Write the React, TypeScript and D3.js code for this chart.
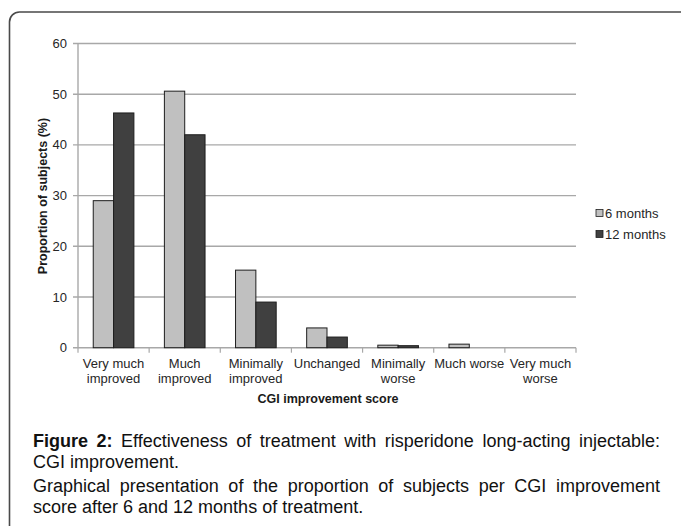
import React, { useLayoutEffect, useRef } from "react";
import * as d3 from "d3";

const categories: string[][] = [
  ["Very much", "improved"],
  ["Much", "improved"],
  ["Minimally", "improved"],
  ["Unchanged"],
  ["Minimally", "worse"],
  ["Much worse"],
  ["Very much", "worse"],
];
const seriesNames = ["6 months", "12 months"];
const sixMonths = [29.0, 50.6, 15.3, 3.9, 0.5, 0.7, 0];
const twelveMonths = [46.3, 42.0, 9.0, 2.1, 0.4, 0, 0];
const yTicks = [0, 10, 20, 30, 40, 50, 60];

const seriesValues = [sixMonths, twelveMonths];
const seriesFill = ["#c0c0c0", "#404040"];

function Justified(props: { x: number; y: number; width: number; children: React.ReactNode }) {
  const ref = useRef<SVGTextElement>(null);
  useLayoutEffect(() => {
    const el = ref.current;
    if (!el) return;
    el.setAttribute("word-spacing", "0");
    const natural = el.getComputedTextLength();
    const txt = el.textContent || "";
    const spaces = (txt.match(/ /g) || []).length;
    if (spaces > 0 && natural < props.width) {
      el.setAttribute("word-spacing", String((props.width - natural) / spaces));
    }
  }, [props.width]);
  return (
    <text ref={ref} x={props.x} y={props.y}>
      {props.children}
    </text>
  );
}

export default function App() {
  const W = 681;
  const H = 526;
  const left = 78;
  const right = 576;
  const top = 43.5;
  const bottom = 347.7;
  const catKeys = categories.map((c) => c.join(" "));
  const x = d3.scaleBand<string>().domain(catKeys).range([left, right]).padding(0);
  const xs = d3
    .scaleBand<string>()
    .domain(seriesNames)
    .range([0, x.bandwidth()])
    .paddingInner(0)
    .paddingOuter(0.75);
  const y = d3.scaleLinear().domain([0, 60]).range([bottom, top]);
  const font = "'Liberation Sans', Arial, sans-serif";
  const textColor = "#262626";
  const gridColor = "#a8a8a8";
  const boundaries = catKeys.map((k) => x(k) as number).concat([right]);

  return (
    <svg
      width={W}
      height={H}
      style={{ position: "absolute", left: 0, top: 0, background: "#fff" }}
      fontFamily={font}
    >
      <rect x={0} y={0} width={W} height={H} fill="#fff" />
      {/* frame */}
      <path
        d={`M9.5,${H + 2} L9.5,22 A10,10 0 0 1 19.5,12 L${W + 2},12`}
        fill="none"
        stroke="#4a4a4a"
        strokeWidth={1.6}
      />
      {/* gridlines + y ticks */}
      {yTicks.map((t) => (
        <g key={t}>
          <line x1={left - 5} x2={right} y1={y(t)} y2={y(t)} stroke={gridColor} strokeWidth={1.4} />
          <text x={67} y={y(t)} dy="0.35em" textAnchor="end" fontSize={13} fill={textColor}>
            {t}
          </text>
        </g>
      ))}
      {/* y axis line */}
      <line x1={left} x2={left} y1={top} y2={bottom} stroke={gridColor} strokeWidth={1.4} />
      {/* x ticks */}
      {boundaries.map((b, i) => (
        <line key={i} x1={b} x2={b} y1={bottom} y2={bottom + 5} stroke={gridColor} strokeWidth={1.2} />
      ))}
      {/* bars */}
      {catKeys.map((k, ci) => (
        <g key={k} transform={`translate(${x(k)},0)`}>
          {seriesNames.map((s, si) => {
            const v = seriesValues[si][ci];
            if (v <= 0) return null;
            return (
              <rect
                key={s}
                x={xs(s)}
                y={y(v)}
                width={xs.bandwidth()}
                height={bottom - y(v)}
                fill={seriesFill[si]}
                stroke="#1e1e1e"
                strokeWidth={1}
              />
            );
          })}
        </g>
      ))}
      {/* x tick labels */}
      {categories.map((lines, ci) => (
        <text
          key={ci}
          x={(x(catKeys[ci]) as number) + x.bandwidth() / 2}
          y={367.5}
          textAnchor="middle"
          fontSize={13}
          fill={textColor}
        >
          {lines.map((l, li) => (
            <tspan key={li} x={(x(catKeys[ci]) as number) + x.bandwidth() / 2} dy={li === 0 ? 0 : 15}>
              {l}
            </tspan>
          ))}
        </text>
      ))}
      {/* axis titles */}
      <text
        x={(left + right) / 2 + 1}
        y={403}
        textAnchor="middle"
        fontSize={12.5}
        fontWeight="bold"
        fill="#1a1a1a"
      >
        CGI improvement score
      </text>
      <text
        transform={`translate(47,196) rotate(-90)`}
        textAnchor="middle"
        fontSize={12.5}
        fontWeight="bold"
        fill="#1a1a1a"
      >
        Proportion of subjects (%)
      </text>
      {/* legend */}
      {seriesNames.map((s, i) => (
        <g key={s} transform={`translate(596,${213 + i * 21})`}>
          <rect x={0} y={-3.5} width={7} height={7} fill={seriesFill[i]} stroke="#1e1e1e" strokeWidth={0.8} />
          <text x={9} y={0} dy="0.35em" fontSize={13} fill={textColor}>
            {s}
          </text>
        </g>
      ))}
      {/* caption */}
      <g fontFamily={font} fontSize={18} fill="#111">
        <Justified x={33} y={447} width={627}>
          <tspan fontWeight="bold">Figure 2:</tspan>
          <tspan> Effectiveness of treatment with risperidone long-acting injectable:</tspan>
        </Justified>
        <text x={33} y={468}>
          CGI improvement.
        </text>
        <Justified x={33} y={492} width={627}>
          Graphical presentation of the proportion of subjects per CGI improvement
        </Justified>
        <text x={33} y={513}>
          score after 6 and 12 months of treatment.
        </text>
      </g>
    </svg>
  );
}
